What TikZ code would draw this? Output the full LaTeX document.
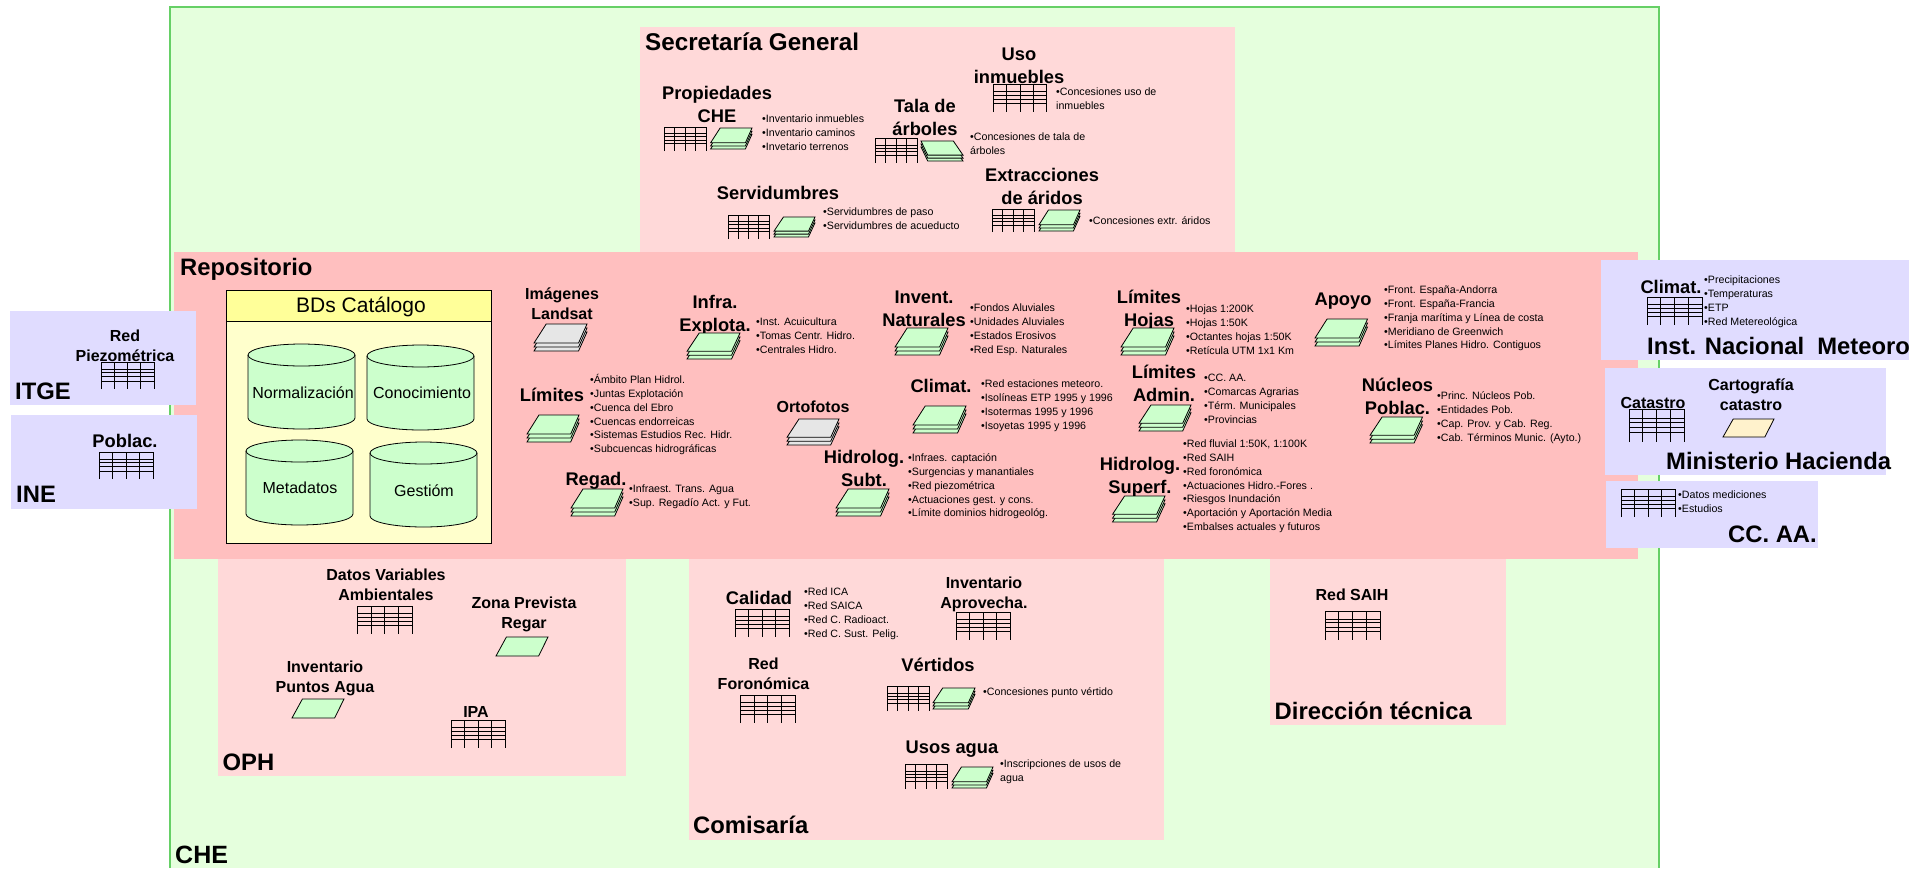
\documentclass[tikz,border=0pt]{standalone}
\usepackage{fontspec}
\setmainfont{Liberation Sans}
\definecolor{chefill}{HTML}{E5FFDD}
\definecolor{cheline}{HTML}{66D066}
\definecolor{dept}{HTML}{FFD9D9}
\definecolor{repo}{HTML}{FFBFBF}
\definecolor{lila}{HTML}{E0DCFF}
\definecolor{hdr}{HTML}{FFFF99}
\definecolor{bodyy}{HTML}{FFFFCC}
\definecolor{mint}{HTML}{CCFFCC}
\definecolor{grayy}{HTML}{E6E6E6}
\definecolor{cream}{HTML}{FFF2CC}
\tikzset{
  titleA/.style={anchor=north,inner sep=0pt,align=center,yshift=11.5pt,font=\bfseries\fontsize{18.3}{23}\selectfont},
  titleB/.style={anchor=north,inner sep=0pt,align=center,yshift=11pt,font=\bfseries\fontsize{16}{20.4}\selectfont},
  groupname/.style={anchor=mid west,inner sep=0pt,yshift=-5pt,font=\bfseries\fontsize{23.8}{28}\selectfont},
  bullets/.style={anchor=north west,inner sep=0pt,align=left,yshift=6.3pt,font=\fontsize{10.65}{13.75}\selectfont},
  cyltext/.style={inner sep=0pt,font=\fontsize{16}{19}\selectfont},
  gridline/.style={draw=black,line width=0.8pt},
  sheet/.style={draw=black,line width=0.8pt,line join=miter}
}
\newcommand{\ttlA}[4]{\node[titleA] (#1) at (#2,#3) {\rule{0pt}{18pt}#4};}
\newcommand{\ttlB}[4]{\node[titleB] (#1) at (#2,#3) {\rule{0pt}{16pt}#4};}
\newcommand{\grp}[4]{\node[groupname] (#1) at (#2,#3) {#4};}
\newcommand{\blist}[4]{\node[bullets] (#1) at (#2,#3) {\rule{0pt}{10pt}#4};}
\newcommand{\dbtable}[4]{\begin{scope}[shift={(#1,#2)},xscale={#3-#1},yscale={#4-#2}]
  \draw[gridline] (0,1)--(0,0)--(1,0)--(1,1) (.25,0)--(.25,1) (.5,0)--(.5,1) (.75,0)--(.75,1)
    (0,.28)--(1,.28) (0,.40)--(1,.40) (0,.55)--(1,.55) (0,.70)--(1,.70);
  \end{scope}}
\newcommand{\sheetstack}[5][mint]{\begin{scope}[shift={(#2,#3)},xscale={#4-#2},yscale={#5-#3}]
  \foreach \d in {.295,.15,0}{
    \filldraw[sheet,fill=#1] (.23,\d)--(1,\d)--(.84,.705+\d)--(0,.705+\d)--cycle;}
  \end{scope}}
\newcommand{\sheetmirror}[4]{\begin{scope}[shift={(#3,#2)},xscale={#1-#3},yscale={#4-#2}]
  \foreach \d in {.295,.15,0}{
    \filldraw[sheet,fill=mint] (.23,\d)--(1,\d)--(.84,.705+\d)--(0,.705+\d)--cycle;}
  \end{scope}}
\newcommand{\onesheet}[5]{\begin{scope}[shift={(#1,#2)},xscale={#3-#1},yscale={#4-#2}]
  \filldraw[sheet,fill=#5] (.2,0)--(1,0)--(.82,1)--(0,1)--cycle;
  \end{scope}}
\newcommand{\cyl}[4]{\pgfmathsetmacro{\rx}{(#3-#1)/2}
  \filldraw[draw=black,line width=0.8pt,fill=mint] (#1,#2+11) -- (#1,#4-11) arc[start angle=180,end angle=360,x radius=\rx pt,y radius=11pt] -- (#3,#2+11) arc[start angle=0,end angle=180,x radius=\rx pt,y radius=11pt] -- cycle;
  \draw[line width=0.8pt] (#1,#2+11) arc[start angle=180,end angle=360,x radius=\rx pt,y radius=11pt];}
\begin{document}
\begin{tikzpicture}[x=1pt,y=-1pt]
\useasboundingbox (0,0) rectangle (1925,868);
% CHE
\fill[chefill] (170,7) rectangle (1659,868);
\draw[cheline,line width=1.2pt] (170,868)--(170,7)--(1659,7)--(1659,868);
% departments
\fill[dept] (640,27) rectangle (1235,252);
\fill[dept] (218,559) rectangle (626,776);
\fill[dept] (689,559) rectangle (1164,840);
\fill[dept] (1270,559) rectangle (1506,725);
\fill[repo] (174,252) rectangle (1638,559);
% external bodies
\fill[lila] (10,311) rectangle (196,405);
\fill[lila] (11,415) rectangle (197,509);
\fill[lila] (1601,260) rectangle (1909,360);
\fill[lila] (1605,368) rectangle (1886,475);
\fill[lila] (1606,481) rectangle (1818,548);
% catalogue
\filldraw[draw=black,line width=0.8pt,fill=bodyy] (226,290) rectangle (491,543);
\filldraw[draw=black,line width=0.8pt,fill=hdr] (226,290) rectangle (491,321);
\node[inner sep=0pt,font=\fontsize{21}{25}\selectfont] (bdscat) at (361,306.5) {BDs Catálogo};
\cyl{248}{344}{355}{429}
\cyl{367}{345}{474}{430}
\cyl{246}{440}{353}{525}
\cyl{370}{442}{477}{527}
\node[cyltext] (norm) at (303,393) {Normalización};
\node[cyltext] (conoc) at (422,393) {Conocimiento};
\node[cyltext] (meta) at (300,488) {Metadatos};
\node[cyltext] (gest) at (424,491) {Gestióm};
% titles
\grp{gche}{175}{856}{\fontsize{25}{28}\selectfont CHE}
\grp{gsec}{645}{43}{\fontsize{24.2}{28}\selectfont Secretaría General}
\grp{grepo}{180}{268}{Repositorio}
\grp{gitge}{15}{392}{ITGE}
\grp{gine}{16}{495}{INE}
\grp{goph}{222.5}{763}{OPH}
\grp{gcom}{693}{826}{Comisaría}
\grp{gdir}{1274.5}{712}{Dirección técnica}
\grp{ginm}{1647}{347}{Inst. Nacional\ \ Meteoro}
\grp{ghac}{1666}{462}{Ministerio Hacienda}
\grp{gcca}{1728}{535}{CC. AA.}
% Secretaria
\ttlA{tuso}{1019}{54}{Uso\\inmuebles}
\ttlA{tprop}{717}{93}{Propiedades\\CHE}
\ttlA{ttala}{925}{106}{Tala de\\árboles}
\ttlA{text}{1042}{175}{Extracciones\\de áridos}
\ttlA{tserv}{778}{193}{Servidumbres}
\dbtable{993.5}{84}{1046.5}{112}
\dbtable{664}{127}{706}{151}
\dbtable{875}{138}{917}{163}
\dbtable{992}{209}{1034}{232}
\dbtable{728}{215}{769}{239}
\sheetstack{710.6}{128}{752}{149}
\sheetmirror{921}{141}{963}{161}
\sheetstack{1039}{210}{1080}{231}
\sheetstack{774}{217}{815}{237}
\blist{buso}{1056}{92}{•Concesiones uso de\\inmuebles}
\blist{bprop}{762}{119}{•Inventario inmuebles\\•Inventario caminos\\•Invetario terrenos}
\blist{btala}{970}{137}{•Concesiones de tala de\\árboles}
\blist{bext}{1089}{221}{•Concesiones extr. áridos}
\blist{bserv}{823}{212}{•Servidumbres de paso\\•Servidumbres de acueducto}
% ITGE / INE
\ttlB{tpiez}{125}{336}{Red\\Piezométrica}
\dbtable{101}{362}{154}{389}
\ttlA{tpobl}{125}{441}{Poblac.}
\dbtable{99}{452}{153}{479}
% Repositorio
\ttlB{tland}{562}{294}{Imágenes\\Landsat}
\ttlA{tinfra}{715}{302}{Infra.\\Explota.}
\ttlA{tinv}{924}{297}{Invent.\\Naturales}
\ttlA{tlim}{552}{395}{Límites}
\ttlB{torto}{813}{407}{Ortofotos}
\ttlA{tclim}{941}{386}{Climat.}
\ttlA{treg}{596}{479}{Regad.}
\ttlA{thsub}{864}{457}{Hidrolog.\\Subt.}
\ttlA{thoj}{1149}{297}{Límites\\Hojas}
\ttlA{tapo}{1343}{299}{Apoyo}
\ttlA{tadm}{1164}{372}{Límites\\Admin.}
\ttlA{tnuc}{1397.5}{385}{Núcleos\\Poblac.}
\ttlA{thsup}{1140}{464}{Hidrolog.\\Superf.}
\sheetstack[grayy]{534}{324}{587}{351}
\sheetstack{687}{333}{740}{359}
\sheetstack{895}{328}{948}{355}
\sheetstack{527}{415}{579}{442}
\sheetstack[grayy]{787}{419}{839}{445}
\sheetstack{913}{406}{966}{433}
\sheetstack{571}{489}{623}{516}
\sheetstack{836}{489}{889}{516}
\sheetstack{1121}{328}{1174}{355}
\sheetstack{1315}{319}{1367.5}{346}
\sheetstack{1139}{405}{1191}{431}
\sheetstack{1370}{417}{1422.5}{443}
\sheetstack{1112.5}{496}{1165}{522}
\blist{binfra}{756}{322}{•Inst. Acuicultura\\•Tomas Centr. Hidro.\\•Centrales Hidro.}
\blist{binv}{970}{308}{•Fondos Aluviales\\•Unidades Aluviales\\•Estados Erosivos\\•Red Esp. Naturales}
\blist{blim}{590}{380}{•Ámbito Plan Hidrol.\\•Juntas Explotación\\•Cuenca del Ebro\\•Cuencas endorreicas\\•Sistemas Estudios Rec. Hidr.\\•Subcuencas hidrográficas}
\blist{bclim}{981}{384}{•Red estaciones meteoro.\\•Isolíneas ETP 1995 y 1996\\•Isotermas 1995 y 1996\\•Isoyetas 1995 y 1996}
\blist{breg}{629}{489}{•Infraest. Trans. Agua\\•Sup. Regadío Act. y Fut.}
\blist{bhsub}{908}{458}{•Infraes. captación\\•Surgencias y manantiales\\•Red piezométrica\\•Actuaciones gest. y cons.\\•Límite dominios hidrogeológ.}
\blist{bhoj}{1186}{309}{•Hojas 1:200K\\•Hojas 1:50K\\•Octantes hojas 1:50K\\•Retícula UTM 1x1 Km}
\blist{bapo}{1384}{290}{•Front. España-Andorra\\•Front. España-Francia\\•Franja marítima y Línea de costa\\•Meridiano de Greenwich\\•Límites Planes Hidro. Contiguos}
\blist{badm}{1204}{378}{•CC. AA.\\•Comarcas Agrarias\\•Térm. Municipales\\•Provincias}
\blist{bnuc}{1437}{396}{•Princ. Núcleos Pob.\\•Entidades Pob.\\•Cap. Prov. y Cab. Reg.\\•Cab. Términos Munic. (Ayto.)}
\blist{bhsup}{1183}{444}{•Red fluvial 1:50K, 1:100K\\•Red SAIH\\•Red foronómica\\•Actuaciones Hidro.-Fores .\\•Riesgos Inundación\\•Aportación y Aportación Media\\•Embalses actuales y futuros}
% right side
\ttlA{tcl2}{1671}{287}{Climat.}
\dbtable{1647}{297}{1702}{325}
\blist{bcl2}{1704}{280}{•Precipitaciones\\•Temperaturas\\•ETP\\•Red Metereológica}
\ttlB{tcat}{1653}{403}{Catastro}
\dbtable{1629}{409}{1684}{442}
\ttlB{tcart}{1751}{385}{Cartografía\\catastro}
\onesheet{1723}{419}{1774}{437}{cream}
\dbtable{1621}{489}{1675}{517}
\blist{bcca}{1678}{495}{•Datos mediciones\\•Estudios}
% OPH
\ttlB{tdat}{386}{575}{Datos Variables\\Ambientales}
\dbtable{357.5}{606}{412}{634}
\ttlB{tzona}{524}{603}{Zona Prevista\\Regar}
\onesheet{496}{637}{548}{656}{mint}
\ttlB{tipa2}{325}{667}{Inventario\\Puntos Agua}
\onesheet{292}{699}{344}{718}{mint}
\ttlB{tipa}{476}{712}{IPA}
\dbtable{451}{720}{505}{748}
% Comisaria
\ttlA{tcal}{759}{598}{Calidad}
\dbtable{735}{609}{789}{637}
\blist{bcal}{804}{592}{•Red ICA\\•Red SAICA\\•Red C. Radioact.\\•Red C. Sust. Pelig.}
\ttlB{tapr}{984}{583}{Inventario\\Aprovecha.}
\dbtable{956}{612}{1010.5}{640}
\ttlB{tfor}{763.5}{664}{Red\\Foronómica}
\dbtable{740.5}{695}{795}{723}
\ttlA{tver}{938}{665}{Vértidos}
\dbtable{887}{686}{929}{711}
\sheetstack{933}{688}{975}{709}
\blist{bver}{983}{692}{•Concesiones punto vértido}
\ttlA{tusos}{952}{747}{Usos agua}
\dbtable{905}{764}{947}{789}
\sheetstack{952}{767}{993}{788}
\blist{busos}{1000}{764}{•Inscripciones de usos de\\agua}
% Direccion
\ttlB{tsaih}{1352}{595}{Red SAIH}
\dbtable{1325}{611}{1380}{640}
\end{tikzpicture}
\end{document}
